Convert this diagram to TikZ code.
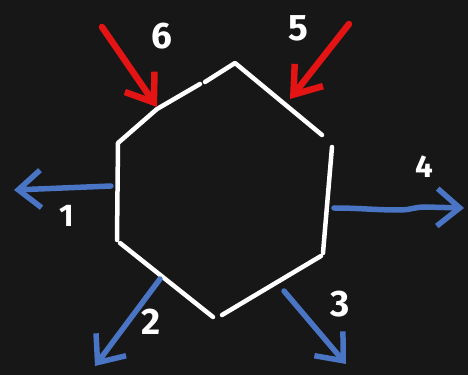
\documentclass[tikz,border=0pt]{standalone}
\usepackage{fontspec}
\setmainfont{Fira Sans}
\usetikzlibrary{arrows.meta}
\definecolor{board}{HTML}{171717}
\definecolor{chalkred}{HTML}{E41414}
\definecolor{chalkblue}{HTML}{4A74C4}

\begin{document}
\begin{tikzpicture}[
    x=0.02cm, y=-0.02cm,
    chalk/.style={draw=white, line width=0.09cm, line cap=round, line join=round},
    inarrow/.style={draw=chalkred, line width=0.13cm, line cap=round,
                    -{Straight Barb[length=0.5cm, width=0.72cm, line width=0.13cm]}},
    outarrow/.style={draw=chalkblue, line width=0.11cm, line cap=round,
                     -{Straight Barb[length=0.45cm, width=0.75cm, line width=0.11cm]}},
    num/.style={text=white, font=\bfseries\fontsize{21}{21}\selectfont, inner sep=0pt}
]

% board
\fill[board] (0,0) rectangle (468,375);
\useasboundingbox (0,0) rectangle (468,375);

% hexagon corners
\coordinate (top) at (235,63);
\coordinate (topl) at (205,82);
\coordinate (ulstart) at (200,84);
\coordinate (ul) at (118,143);
\coordinate (ll) at (117,240);
\coordinate (llstart) at (120,243);
\coordinate (bot) at (213,317);
\coordinate (botr) at (222,315);
\coordinate (lr) at (321,256);
\coordinate (rtop) at (332,147);
\coordinate (rbot) at (323,253);
\coordinate (ur) at (322,135);

% hexagon, drawn as separate strokes
\draw[chalk] (topl) -- (top) -- (ur);
\draw[chalk] (ulstart) -- (157,109) -- (ul) -- (ll);
\draw[chalk] (llstart) -- (bot);
\draw[chalk] (botr) -- (lr);
\draw[chalk] (rtop) -- (rbot);

% arrow ends
\coordinate (sixtail) at (102,27);
\coordinate (sixtip) at (157,107);
\coordinate (fivetail) at (349,24);
\coordinate (fivetip) at (290,99);
\coordinate (onetail) at (111,186);
\coordinate (onetip) at (14,190);
\coordinate (fourtail) at (334,208);
\coordinate (fourtip) at (464,208);
\coordinate (twotail) at (160,279);
\coordinate (twotip) at (95,366);
\coordinate (threetail) at (284,291);
\coordinate (threetip) at (346,364);

% incoming
\draw[inarrow] (sixtail) -- (sixtip);
\draw[inarrow] (fivetail) -- (fivetip);

% outgoing
\draw[outarrow] (onetail) -- (onetip);
\draw[outarrow] (fourtail) to[out=0, in=180] (400,210) to[out=0, in=180] (425,207) -- (fourtip);
\draw[outarrow] (twotail) -- (twotip);
\draw[outarrow] (threetail) -- (threetip);

% numbers
\node[num] (lsix) at (162,36) {6};
\node[num] (lfive) at (298,28) {5};
\node[num, scale=0.85] (lfour) at (424,167) {4};
\node[num, scale=0.85] (lone) at (67,216) {1};
\node[num] (ltwo) at (151,322) {2};
\node[num] (lthree) at (340,304) {3};

\end{tikzpicture}
\end{document}
